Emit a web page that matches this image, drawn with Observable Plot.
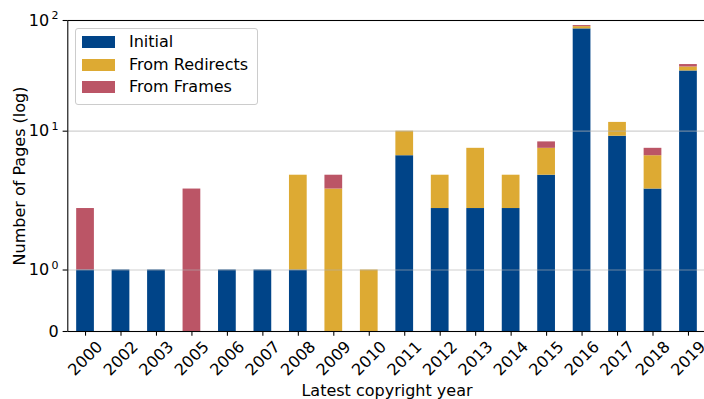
<!DOCTYPE html>
<html>
<head>
<meta charset="utf-8">
<script src="https://cdn.jsdelivr.net/npm/d3@7"></script>
<script src="https://cdn.jsdelivr.net/npm/@observablehq/plot@0.6"></script>
<style>
  html, body { margin: 0; padding: 0; background: #fff; }
  #chart { position: relative; width: 704px; height: 399px; overflow: hidden; font-family: "DejaVu Sans", sans-serif; }
  #chart svg { display: block; }
  .legend { position: absolute; left: 75px; top: 28px; width: 181px; height: 75px;
            border: 1px solid #cccccc; border-radius: 3px; background: rgba(255,255,255,0.8); }
  .legend .swatch { position: absolute; left: 6px; width: 33px; height: 11.5px; }
  .legend .label { position: absolute; left: 53px; height: 20px; line-height: 20px; font-size: 16px; color: #000; white-space: nowrap; }
</style>
</head>
<body>
<div id="chart"></div>
<script>
// Years that have at least one page
const years = ["2000","2002","2003","2005","2006","2007","2008","2009","2010",
               "2011","2012","2013","2014","2015","2016","2017","2018","2019"];

// Page counts per source, aligned with years
const initial   = [1, 1, 1, 0, 1, 1, 1, 0, 0, 6, 2, 2, 2, 4, 84, 9, 3, 35];
const redirects = [0, 0, 0, 0, 0, 0, 3, 3, 1, 4, 2, 5, 2, 3, 4,  3, 3, 3];
const frames    = [1, 0, 0, 3, 0, 0, 0, 1, 0, 0, 0, 0, 0, 1, 2,  0, 1, 2];

const seriesNames  = ["Initial", "From Redirects", "From Frames"];
const seriesColors = ["#004488", "#DDAA33", "#BB5566"];

// y-axis ticks: mantissa and exponent of each label ("0", 10^0, 10^1, 10^2)
const yTicks     = [0, 1, 10, 100];
const yMantissas = ["0", "10", "10", "10"];
const yExponents = ["", "0", "1", "2"];

// Symmetric log transform: linear below the threshold, log10 above it
const LINTHRESH = 2;
const LINSCALE = 1 / (1 - 1 / 10);
const symlog = v => v <= LINTHRESH
  ? (v / LINTHRESH) * LINSCALE
  : LINSCALE + Math.log10(v / LINTHRESH);

const rows = [];
[initial, redirects, frames].forEach((vals, k) => {
  years.forEach((yr, i) => rows.push({year: yr, source: seriesNames[k], count: vals[i]}));
});

const tickIdx = yTicks.map((_, i) => i);

const plot = Plot.plot({
  width: 704,
  height: 399,
  marginTop: 20,
  marginBottom: 68,
  marginLeft: 67.3,
  marginRight: -1.7,
  style: {fontFamily: "DejaVu Sans", fontSize: "16px", background: "#fff", color: "#000", overflow: "visible"},
  x: {type: "band", domain: years, paddingInner: 0.5, paddingOuter: 0.25, align: 0.5, round: false},
  y: {type: "linear", transform: symlog, domain: [0, symlog(100)]},
  color: {domain: seriesNames, range: seriesColors},
  marks: [
    Plot.barY(rows, {x: "year", y: "count", fill: "source"}),
    Plot.gridY(yTicks.slice(1), {stroke: "#b0b0b0", strokeOpacity: 0.6, strokeWidth: 1.2}),
    Plot.frame({stroke: "#000", strokeWidth: 1.07}),
    // y ticks (marks only) and their labels drawn as mantissa + raised exponent
    Plot.axisY(yTicks, {tickSize: 4.67, fill: "none", label: null, strokeWidth: 1.07}),
    Plot.text(tickIdx, {y: i => yTicks[i], text: i => yMantissas[i], frameAnchor: "left",
                        dx: i => 0, textAnchor: "end", lineAnchor: "middle", fontSize: 16,
                        filter: i => i > 0, dx: -18.6}),
    Plot.text(tickIdx, {y: i => yTicks[i], text: i => yMantissas[i], frameAnchor: "left",
                        textAnchor: "end", lineAnchor: "middle", fontSize: 16,
                        filter: i => i === 0, dx: -9.2}),
    Plot.text(tickIdx, {y: i => yTicks[i], text: i => yExponents[i], frameAnchor: "left",
                        textAnchor: "end", lineAnchor: "middle", fontSize: 11,
                        filter: i => i > 0, dx: -9.4, dy: -4.6}),
    // x ticks (marks only) and rotated year labels
    Plot.axisX({tickSize: 4.67, fill: "none", label: null, strokeWidth: 1.07}),
    Plot.text(years, {x: d => d, frameAnchor: "bottom", dy: 27, rotate: -45,
                      textAnchor: "middle", lineAnchor: "middle", fontSize: 16}),
    Plot.text(["Latest copyright year"], {frameAnchor: "bottom", dy: 64.5, lineAnchor: "bottom", fontSize: 16}),
    Plot.text(["Number of Pages (log)"], {frameAnchor: "left", dx: -42.8, rotate: -90,
                                          textAnchor: "middle", lineAnchor: "bottom", fontSize: 16})
  ]
});

const chart = document.getElementById("chart");
chart.appendChild(plot);

// Legend box in the upper-left corner of the plot area
const legend = document.createElement("div");
legend.className = "legend";
const rowCenters = [13, 36, 58];
seriesNames.forEach((name, i) => {
  const sw = document.createElement("div");
  sw.className = "swatch";
  sw.style.top = (rowCenters[i] - 5.75) + "px";
  sw.style.background = seriesColors[i];
  const lb = document.createElement("div");
  lb.className = "label";
  lb.style.top = (rowCenters[i] - 10) + "px";
  lb.textContent = name;
  legend.appendChild(sw);
  legend.appendChild(lb);
});
chart.appendChild(legend);
</script>
</body>
</html>
